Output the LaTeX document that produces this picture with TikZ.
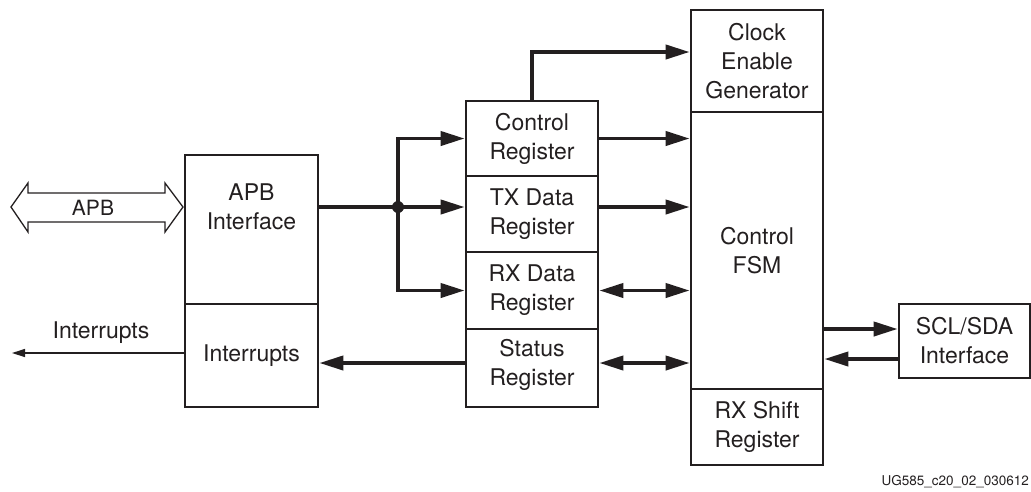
\documentclass[tikz,border=0pt]{standalone}
\usepackage{fontspec}
\setmainfont{TeX Gyre Heros}
\usetikzlibrary{arrows.meta}
\definecolor{ink}{RGB}{35,31,32}
\begin{document}
\begin{tikzpicture}[x=1pt,y=-1pt,
  blk/.style={draw=ink,line width=2.6pt,inner sep=0pt,align=center,text=ink,
    font=\fontsize{23}{29}\selectfont},
  txt/.style={inner sep=0pt,align=center,text=ink,font=\fontsize{23}{29}\selectfont},
  bus/.style={draw=ink,line width=3.8pt},
  hd/.style={-{Triangle[length=24pt,width=14pt]}},
  dhd/.style={{Triangle[length=24pt,width=14pt]}-{Triangle[length=24pt,width=14pt]}},
  thin/.style={draw=ink,line width=1.3pt}]
\useasboundingbox (0,0) rectangle (1031,491);
% blocks
\node[blk,minimum width=133pt,minimum height=149pt] (apbif) at (251.5,229.5) {};
\node[txt] (apbiftxt) at (251.5,207) {APB\\Interface};
\node[blk,minimum width=133pt,minimum height=103pt] (intrb) at (251.5,355.5) {Interrupts};
\node[blk,minimum width=132pt,minimum height=75pt] (ctrl) at (532,138.5) {Control\\Register};
\node[blk,minimum width=132pt,minimum height=76pt] (tx) at (532,214) {TX Data\\Register};
\node[blk,minimum width=132pt,minimum height=77pt] (rx) at (532,290.5) {RX Data\\Register};
\node[blk,minimum width=132pt,minimum height=78pt] (stat) at (532,368) {};
\node[txt] (stattxt) at (532,364.5) {Status\\Register};
\node[blk,minimum width=132pt,minimum height=102pt] (ceg) at (757,61) {Clock\\Enable\\Generator};
\node[blk,minimum width=132pt,minimum height=277pt] (fsm) at (757,250.5) {Control\\FSM};
\node[blk,minimum width=132pt,minimum height=76pt] (rxs) at (757,427) {RX Shift\\Register};
\node[blk,minimum width=131pt,minimum height=74pt] (scl) at (964.5,341) {SCL/SDA\\Interface};
% APB hollow double arrow
\coordinate (a1) at (11,207);
\coordinate (a2) at (28,183);
\coordinate (a3) at (28,193);
\coordinate (a4) at (165,193);
\coordinate (a5) at (165,183);
\coordinate (a6) at (183,207);
\coordinate (a7) at (165,232);
\coordinate (a8) at (165,222);
\coordinate (a9) at (28,222);
\coordinate (a10) at (28,232);
\draw[thin,line join=miter] (a1) -- (a2) -- (a3) -- (a4) -- (a5) -- (a6) -- (a7) -- (a8) -- (a9) -- (a10) -- cycle;
\node[inner sep=0pt,text=ink,font=\fontsize{21}{25}\selectfont] (apb) at (93,208) {APB};
% bus from APB interface
\coordinate (j) at (398,207);
\draw[bus] (apbif.east |- j) -- (j);
\draw[bus,hd] (j) -- (tx.west |- j);
\draw[bus,hd] (j) |- (ctrl.west);
\draw[bus,hd] (j) |- (rx.west);
\fill[ink] (j) circle (6pt);
% to clock enable generator
\draw[bus,hd] (ctrl.north) |- ([yshift=9pt]ceg.west);
% registers to FSM
\draw[bus,hd] (ctrl.east) -- (fsm.west |- ctrl.east);
\draw[bus,hd] (tx.east |- j) -- (fsm.west |- j);
\draw[bus,dhd] (rx.east) -- (fsm.west |- rx.east);
\coordinate (sy) at (0,363);
\draw[bus,dhd] (stat.east |- sy) -- (fsm.west |- sy);
\draw[bus,hd] (stat.west |- sy) -- (intrb.east |- sy);
% interrupts output
\coordinate (intout) at (12,353);
\draw[thin,-{Triangle[length=13pt,width=8pt]}] (intrb.west |- intout) -- (intout);
\node[txt] (intlbl) at (101,333) {Interrupts};
% SCL/SDA
\coordinate (s1) at (0,329);
\coordinate (s2) at (0,359);
\draw[bus,hd] (fsm.east |- s1) -- (scl.west |- s1);
\draw[bus,hd] (scl.west |- s2) -- (fsm.east |- s2);
% figure id
\node[anchor=east,inner sep=0pt,text=ink,font=\fontsize{13.5}{16}\selectfont] (figid) at (1029,482) {UG585\_c20\_02\_030612};
\end{tikzpicture}
\end{document}
